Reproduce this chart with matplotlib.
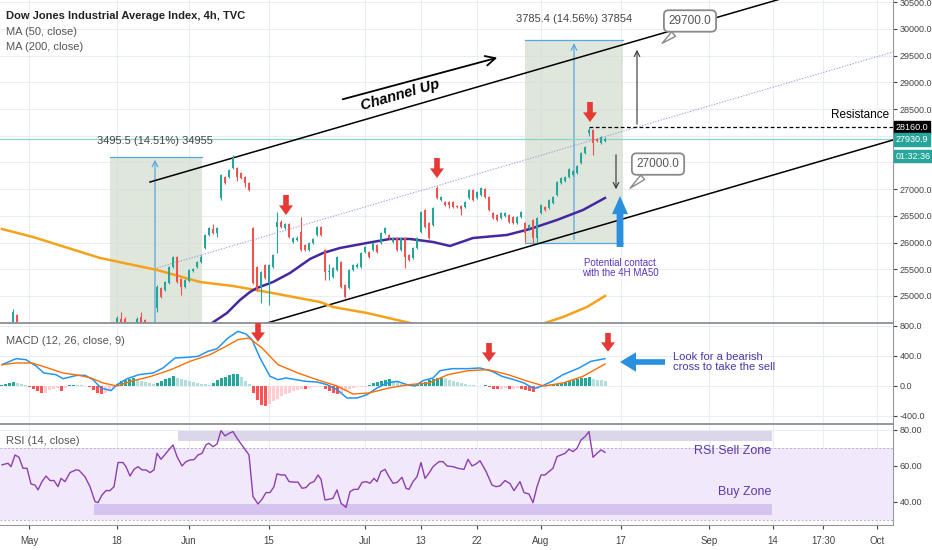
import numpy as np
import matplotlib
matplotlib.use('Agg')
import matplotlib.pyplot as plt
from matplotlib.patches import Rectangle, FancyArrow
from matplotlib.transforms import blended_transform_factory

plt.rcParams['font.family'] = ['Liberation Sans', 'DejaVu Sans']

# ---- candles (bar index 0 = first fully visible 4h bar, late May) ----
c_open = [24770, 25150, 25110, 25240, 25540, 25730, 25320, 25170, 25280, 25470,
          25540, 25640, 25900, 26140, 26250, 26180, 26830, 27230, 27230, 27400,
          27400, 27300, 27230, 27120, 26270, 25540, 25170, 25580, 25260, 25540,
          26290, 26380, 26270, 26350, 26010, 26040, 26200, 25950, 25860, 25990,
          26140, 26290, 25860, 25440, 25350, 25490, 25640, 25200, 25150, 25490,
          25540, 25540, 25820, 25820, 25860, 25960, 25990, 26180, 26140, 26010,
          26080, 25860, 26080, 25770, 25710, 25900, 26200, 26610, 26370, 26330,
          27020, 26800, 26760, 26760, 26760, 26680, 26680, 26670, 26830, 26980,
          26830, 26890, 27000, 26850, 26550, 26520, 26460, 26500, 26520, 26480,
          26370, 26480, 26370, 26270, 26420, 26080, 26550, 26670, 26650, 26740,
          26890, 27110, 27150, 27230, 27260, 27300, 27490, 27680, 28050, 28110,
          27940, 27865, 27900]
c_high = [25200, 25170, 25280, 25560, 25750, 25750, 25340, 25320, 25510, 25530,
          25660, 25760, 26160, 26300, 26340, 26290, 27290, 27250, 27380, 27640,
          27420, 27320, 27250, 27130, 26290, 25560, 25470, 25600, 25600, 25790,
          26570, 26420, 26360, 26370, 26100, 26120, 26470, 25980, 26010, 26090,
          26310, 26310, 25880, 25600, 25540, 25750, 25660, 25220, 25500, 25600,
          25610, 25820, 25940, 25840, 26010, 25980, 26200, 26290, 26160, 26100,
          26100, 26100, 26100, 25790, 25920, 26100, 26590, 26630, 26390, 26670,
          27060, 26870, 26780, 26780, 26780, 26700, 26700, 26780, 27000, 27000,
          26970, 27040, 27020, 26870, 26570, 26540, 26570, 26580, 26540, 26500,
          26500, 26600, 26390, 26350, 26440, 26480, 26720, 26690, 26820, 26870,
          27150, 27230, 27250, 27400, 27360, 27450, 27700, 27810, 28160, 28130,
          27960, 28000, 27970]
c_low = [24700, 24960, 25090, 25220, 25520, 25240, 25020, 25150, 25260, 25450,
         25520, 25620, 25880, 26120, 26160, 26100, 26800, 27100, 27210, 27380,
         27150, 27190, 27040, 26960, 25220, 25090, 24870, 25320, 24830, 25520,
         25800, 26270, 26250, 26080, 25990, 26020, 25840, 25840, 25840, 25970,
         26120, 26120, 25300, 25300, 25330, 25470, 25150, 24960, 25130, 25470,
         25520, 25520, 25800, 25710, 25840, 25810, 25970, 26160, 26070, 25990,
         25840, 25840, 25520, 25650, 25690, 25880, 26180, 26270, 26060, 26310,
         26810, 26780, 26680, 26650, 26650, 26640, 26520, 26650, 26810, 26780,
         26810, 26870, 26830, 26590, 26440, 26400, 26440, 26480, 26370, 26350,
         26350, 26460, 26010, 26250, 25990, 26000, 26530, 26590, 26630, 26720,
         26870, 27090, 27130, 27210, 27240, 27280, 27470, 27660, 28000, 27640,
         27880, 27850, 27880]
c_close = [25170, 24980, 25260, 25540, 25730, 25260, 25170, 25300, 25490, 25500,
           25640, 25730, 26140, 26270, 26180, 26270, 27270, 27120, 27360, 27580,
           27230, 27210, 27120, 26980, 25240, 25110, 25450, 25340, 25580, 25770,
           26380, 26290, 26340, 26100, 26080, 26080, 25860, 25860, 25990, 26070,
           26290, 26140, 25450, 25470, 25520, 25730, 25170, 24980, 25480, 25580,
           25580, 25800, 25920, 25730, 25990, 25830, 26180, 26270, 26090, 26080,
           25860, 26080, 25730, 25670, 25900, 26080, 26570, 26290, 26080, 26650,
           26830, 26850, 26700, 26700, 26670, 26660, 26620, 26760, 26980, 26800,
           26950, 27020, 26850, 26610, 26460, 26420, 26550, 26550, 26390, 26370,
           26480, 26570, 26180, 26330, 26080, 26460, 26700, 26610, 26800, 26850,
           27130, 27210, 27230, 27380, 27340, 27430, 27680, 27790, 28110, 27860,
           27900, 27977, 27931]

# early May bars, only their tops reach into view
early_bar = [-36, -35, -10, -9, -8, -5, -4, -3]
early_open = [24300, 24640, 24400, 24560, 24570, 24450, 24600, 24540]
early_high = [24760, 24660, 24620, 24700, 24600, 24600, 24700, 24560]
early_low = [24250, 24350, 24380, 24450, 24450, 24430, 24440, 24440]
early_close = [24700, 24400, 24590, 24500, 24480, 24570, 24490, 24480]

# moving averages
ma50_bar = [9, 13.75, 17.5, 20.75, 23.25, 25, 29, 33.25, 38.25, 41.5, 45.75, 52.5,
            58.25, 63.25, 69, 73.25, 79, 87.5, 93.25, 100, 106.5, 112]
ma50_val = [24200, 24493, 24681, 24924, 25074, 25149, 25261, 25430, 25692, 25804,
            25898, 25992, 26067, 26067, 26010, 25936, 26085, 26142, 26254, 26423,
            26610, 26835]
ma200_bar = [-38.75, -31, -14.25, 0, 10.75, 19, 27.5, 40.75, 44, 52.5, 63.25, 80,
             97, 101.5, 107.5, 112]
ma200_val = [26254, 26104, 25711, 25486, 25261, 25186, 25074, 24886, 24793, 24680,
             24494, np.nan, 24494, 24606, 24793, 24999]

# MACD (12, 26, 9)
macd_bar = [-38.75, -35.25, -32.75, -30.25, -28.25, -25.25, -23.5, -20, -18, -16,
            -14, -11.5, -10, -7.5, -4.5, -1, 1.5, 4.5, 7.5, 10.25,
            12.75, 15, 17.75, 20.25, 22.25, 23.75, 25.75, 28.25, 30.25, 32.25,
            34.75, 37.25, 40, 42.5, 45, 47.5, 50, 52.5, 55, 57.5,
            60, 62.5, 64.5, 66.5, 69, 70.75, 73.75, 77.75, 80.75, 83.75,
            86.25, 89.25, 91.75, 94.25, 96.25, 98.75, 101.5, 105.5, 108.5, 112]
macd_val = [284, 364, 351, 266, 173, 151, 97, 142, 142, 84,
            -27, -62, 18, 97, 151, 173, 240, 373, 382, 396,
            462, 497, 640, 729, 693, 617, 373, 129, 84, 107,
            84, 62, 53, 18, -49, -160, -160, -116, -27, 40,
            62, 18, 0, 71, 107, 204, 231, 231, 240, 196,
            129, 84, 40, -36, 0, 62, 151, 240, 329, 364]
signal_bar = [-38.75, -35.25, -31.25, -27.25, -23.5, -19.5, -16.5, -13.5, -10, -6.5,
              -1.5, 3.5, 8.25, 13.25, 17.25, 20.25, 23, 26.25, 30.25, 35.25,
              40, 45, 49, 53, 58, 63, 68, 72.75, 77.75, 82.75,
              87.75, 92.75, 96.75, 101.5, 106.5, 112]
signal_val = [284, 307, 307, 240, 173, 142, 107, 40, 0, 62,
              129, 218, 329, 418, 529, 618, 640, 507, 284, 173,
              84, 0, -107, -93, -27, 18, 40, 151, 204, 218,
              151, 62, 0, 40, 129, 293]
hist_start = -39
hist_val = ([15, 25, 40, 50, 45, 30, 15]
            + [-15, -40, -70, -95, -90, -50, -40, -30, -70, -30]
            + [8, 12, 10, 8, 5]
            + [-20, -50, -90, -110, -90, -60, -30]
            + [30, 60, 80, 95, 100, 90]
            + [65, 50, 40, 30, 45]
            + [70, 90, 110, 130]
            + [110, 95, 80, 65, 50, 40, 30]
            + [20, 15, 40, 80]
            + [100, 120, 140, 160, 165]
            + [120, 70, 20]
            + [-100, -190, -250, -266]
            + [-240, -200, -170, -140, -110, -90, -70, -50, -40]
            + [-44, -30, -20, -15, -10]
            + [-40, -70, -100, -110, -90, -70, -40]
            + [-30, -20, -15, -10]
            + [15, 35, 55, 70, 85, 89, 70, 50, 30, 15]
            + [10, 5, 8]
            + [30, 55, 75, 90, 105, 111, 100]
            + [85, 65, 50, 35, 25, 15]
            + [10, 5, -5, 8]
            + [-20, -35, -44, -40, -30, -44, -40, -25]
            + [-40, -55, -70, -75]
            + [-40, -20, -8]
            + [15, 25, 30, 40]
            + [55, 70, 85, 95, 105, 112, 120]
            + [95, 85, 75, 70])

# RSI (14)
rsi_bar = [-38.75, -37.25, -36.5, -35.5, -34.5, -33.5, -32.5, -31.5, -30.5, -29.75,
           -28.75, -27.75, -26.75, -25.75, -24.75, -24, -23, -21.75, -20.25, -19.5,
           -18, -16.75, -15.5, -14.75, -13.75, -12.75, -11.75, -10.75, -9.75, -8.5,
           -7.75, -6.75, -5.75, -4.75, -3.75, -2.75, -1.75, -0.75, 0, 1,
           2.25, 4, 5, 6.25, 7.25, 8.25, 9.25, 10.25, 11.25, 12.25,
           13, 14, 15, 16, 17, 18, 19, 20, 21.5, 23,
           24, 25.25, 26.25, 27.25, 28.25, 29.25, 30, 31, 32, 33,
           34.25, 35.25, 36.25, 37.25, 38.25, 39.25, 40.25, 41, 42, 43,
           44, 45, 46, 47.25, 48.25, 49.25, 50.25, 51.25, 52.25, 53.25,
           54.25, 55, 56, 57, 58, 59, 60, 61.25, 62.25, 63,
           64, 65, 66, 67, 68, 69, 70.5, 71.5, 72.5, 74,
           75.25, 76.75, 77.75, 78.75, 79.75, 80.75, 82.25, 83.75, 84.75, 85.75,
           87, 88.25, 89.25, 90.75, 91.75, 93, 94, 95, 96, 97,
           98, 99, 100, 101, 102, 103, 104, 105, 106, 107,
           108, 109, 110, 111, 112]
rsi_val = [60.6, 61.5, 59.6, 66.1, 64.8, 58.7, 58.7, 50, 49.4, 46.7,
           51.3, 54.4, 51.9, 51.9, 48.5, 53.1, 51.3, 56.3, 57.8, 57.6,
           54, 48.5, 40.2, 39.6, 43.9, 46.3, 46.3, 48.5, 61.9, 61.9,
           59.6, 54.4, 58.1, 59.6, 57.8, 57.8, 56.3, 57.8, 67, 63.7,
           67, 71.7, 65.2, 60, 62.4, 63.3, 63.5, 66.1, 67, 71.7,
           72.6, 70.7, 72.2, 79.6, 76.7, 78.1, 79.1, 75.4, 70.7, 66.1,
           43, 38.9, 41.5, 45.2, 45.2, 48.5, 55.6, 55, 55, 51.3,
           51, 51, 47.6, 48, 50.4, 51.3, 55, 52.6, 41.1, 41.5,
           42, 46.7, 39.3, 37, 45.7, 47, 47, 50.8, 51.3, 50.4,
           53.1, 51.3, 56.9, 58.1, 54, 50.4, 50.8, 53.7, 47.6, 47,
           51.3, 54, 61.9, 53.1, 56, 59.6, 62.4, 62.4, 60, 59.6,
           58.7, 58.1, 63.7, 60, 61.1, 62.9, 57, 49.4, 48.5, 48.9,
           51.9, 50.2, 46.3, 51.3, 45.2, 44.4, 39.6, 48.5, 55, 55,
           56.9, 58.7, 65.2, 66.1, 67, 69.3, 68, 69.8, 74.4, 76.3,
           79.1, 64.8, 67, 68.9, 67.6]

# time axis labels (bar positions of the dates)
tick_bar = [-32, -10, 8, 28, 52, 66, 80, 96, 116, 138, 154, 166.5, 180]
tick_lbl = ['May', '18', 'Jun', '15', 'Jul', '13', '22', 'Aug', '17', 'Sep', '14', '17:30', 'Oct']

last_price = 27930.9
resistance = 28160.0
meas1 = (-11.75, 11.25, 27603, 3495.5)   # x0, x1, top, move
meas2 = (92, 116.5, 26000, 3785.4)       # x0, x1, bottom, move

UP = '#26a69a'
DN = '#ef5350'
GRID = '#eaedf2'
TICK_FS = 6.5

fig = plt.figure(figsize=(9.32, 5.5), dpi=100)
W, H = 932.0, 550.0


def box(x0, y0, x1, y1):
    return [x0 / W, 1 - y1 / H, (x1 - x0) / W, (y1 - y0) / H]


ax = fig.add_axes(box(0, 0, 893, 323))
axm = fig.add_axes(box(0, 323, 893, 424), sharex=ax)
axr = fig.add_axes(box(0, 424, 893, 525), sharex=ax)

for a in (ax, axm, axr):
    a.set_axisbelow(True)
    a.yaxis.tick_right()
    a.grid(True, color=GRID, lw=0.8)
    a.spines['left'].set_visible(False)
    a.spines['right'].set_color('#9598a1')
    a.spines['top'].set_color('#8c8f98')
    a.spines['top'].set_linewidth(1.3)
    a.spines['bottom'].set_visible(False)
    a.tick_params(axis='y', length=3, labelsize=TICK_FS, colors='#444', pad=2)
ax.spines['top'].set_visible(False)
axr.spines['bottom'].set_visible(True)
axr.spines['bottom'].set_color('#9598a1')

ax.set_xlim(-39.25, 184)
ax.set_xticks(tick_bar)
axr.set_xticklabels(tick_lbl)
ax.tick_params(axis='x', length=0, labelbottom=False)
axm.tick_params(axis='x', length=0, labelbottom=False)
axr.tick_params(axis='x', length=3, labelsize=7, colors='#444', pad=5)

# ---------------- main price panel ----------------
ax.set_ylim(24493, 30543)
pticks = list(range(25000, 31000, 500))
ax.set_yticks(pticks)
ax.set_yticklabels(['' if p in (27500, 28000) else '%.1f' % p for p in pticks])

# measurement boxes
x0, x1, top, mv = meas1
ax.add_patch(Rectangle((x0, top - mv), x1 - x0, mv, fc='#d5ded1', alpha=0.75, lw=0, zorder=1))
ax.plot([x0, x1], [top, top], color='#5aa7dc', lw=0.9, zorder=2)
ax.annotate('', xy=(-0.5, top), xytext=(-0.5, top - mv),
            arrowprops=dict(arrowstyle='->', color='#5aa7dc', lw=0.9), zorder=2)
ax.text(-0.5, top + 200, '3495.5 (14.51%) 34955', ha='center', va='bottom', fontsize=8, color='#444')

x0, x1, bot, mv = meas2
ax.add_patch(Rectangle((x0, bot), x1 - x0, mv, fc='#d5ded1', alpha=0.75, lw=0, zorder=1))
ax.plot([x0, x1], [bot + mv, bot + mv], color='#5aa7dc', lw=0.9, zorder=2)
ax.plot([x0, x1], [bot, bot], color='#5aa7dc', lw=0.9, zorder=2)
ax.annotate('', xy=(104.25, bot + mv), xytext=(104.25, bot),
            arrowprops=dict(arrowstyle='->', color='#5aa7dc', lw=0.9), zorder=2)
ax.text(104.25, bot + mv + 300, '3785.4 (14.56%) 37854', ha='center', va='bottom', fontsize=8, color='#444')

# current price line
ax.axhline(last_price, color='#8fd3ca', lw=0.9, zorder=2)

# channel
ax.plot([-1.75, 184], [27134, 27134 + 21.75 * 185.75], color='black', lw=1.1, zorder=3)
ax.plot([20, 184], [24493 - 21.9 * 7.5, 27921], color='black', lw=1.1, zorder=3)
ax.plot([0, 184], [25524, 29569], color='#9a90d6', lw=0.8, ls=(0, (1, 1.5)), zorder=2)

# moving averages
ax.plot(ma200_bar, ma200_val, color='#f5a21b', lw=1.8, zorder=3)
ax.plot(ma50_bar, ma50_val, color='#4527a0', lw=1.8, zorder=3)

# candles
bars = np.arange(len(c_open))


def draw_candles(xs, o, h, l, c):
    o, h, l, c = map(np.asarray, (o, h, l, c))
    col = np.where(c >= o, UP, DN)
    ax.vlines(xs, l, h, colors=col, lw=0.8, zorder=4)
    ht = np.maximum(np.abs(c - o), 12)
    ax.bar(xs, ht, bottom=np.minimum(o, c), width=0.72, color=col, lw=0, zorder=5)


draw_candles(bars, c_open, c_high, c_low, c_close)
draw_candles(np.asarray(early_bar), early_open, early_high, early_low, early_close)

# resistance
ax.plot([108, 184], [resistance, resistance], color='black', lw=0.9, ls=(0, (3, 2)), zorder=3)
ax.text(183, resistance + 120, 'Resistance', ha='right', va='bottom', fontsize=8.5, color='black')

# red / blue block arrows
for xb, yt in [(32.25, 26891), (70, 27584), (108.25, 28633)]:
    ax.add_patch(FancyArrow(xb, yt, 0, -375, width=1.4, head_width=3.5, head_length=180,
                            length_includes_head=True, color='#e53935', lw=0, zorder=6))
ax.add_patch(FancyArrow(115.75, 25917, 0, 955, width=1.7, head_width=4.0, head_length=340,
                        length_includes_head=True, color='#2b8fe0', lw=0, zorder=6))

# thin target arrows
ax.annotate('', xy=(120, 29663), xytext=(120, 28165),
            arrowprops=dict(arrowstyle='->', color='#333', lw=0.8))
ax.annotate('', xy=(114.75, 26947), xytext=(114.75, 27696),
            arrowprops=dict(arrowstyle='->', color='#333', lw=0.8))

# callouts
for txt, tip, pos in [('29700.0', (125.75, 29700), (133.25, 30150)),
                      ('27000.0', (117.75, 26984), (125.25, 27470))]:
    ax.annotate(txt, xy=tip, xytext=pos, ha='center', va='center', fontsize=8.5, color='#555',
                bbox=dict(boxstyle='round,pad=0.4', fc='white', ec='#8a8a8a', lw=1.3),
                arrowprops=dict(arrowstyle='wedge,tail_width=0.5', fc='white', ec='#8a8a8a', lw=1.0),
                zorder=7)

# channel up label
ax.annotate('', xy=(85.75, 29476), xytext=(45.75, 28670),
            arrowprops=dict(arrowstyle='->,head_length=0.7,head_width=0.35', color='black', lw=1.3))
ax.text(60.75, 28760, 'Channel Up', rotation=16, ha='center', va='center', fontsize=10.5,
        fontweight='bold', fontstyle='italic', color='black', rotation_mode='anchor')

ax.text(115.75, 25524, 'Potential contact\nwith the 4H MA50', ha='center', va='center',
        fontsize=7, color='#5b36b8', linespacing=1.1)

# legend
ax.text(6 / 893, 1 - 16 / 323, 'Dow Jones Industrial Average Index, 4h, TVC', transform=ax.transAxes,
        fontsize=8, color='#222', va='center', fontweight='bold')
ax.text(6 / 893, 1 - 32 / 323, 'MA (50, close)', transform=ax.transAxes, fontsize=8, color='#555', va='center')
ax.text(6 / 893, 1 - 47 / 323, 'MA (200, close)', transform=ax.transAxes, fontsize=8, color='#555', va='center')

# price tags on the axis
bt = blended_transform_factory(ax.transAxes, ax.transData)
tag = dict(ha='left', va='center', fontsize=TICK_FS, color='white', zorder=10)
ax.text(1.003, resistance, '%.1f' % resistance, transform=bt, clip_on=False,
        bbox=dict(boxstyle='square,pad=0.2', fc='black', ec='black'), **tag)
ax.text(1.003, last_price, '%.1f' % last_price, transform=bt, clip_on=False,
        bbox=dict(boxstyle='square,pad=0.2', fc=UP, ec=UP), **tag)
ax.annotate('01:32:36', xy=(1.003, last_price), xycoords=bt, xytext=(0, -12), textcoords='offset points',
            bbox=dict(boxstyle='square,pad=0.2', fc=UP, ec=UP), annotation_clip=False, **tag)

# ---------------- MACD panel ----------------
axm.set_ylim(-507, 840)
axm.set_yticks([800, 400, 0, -400])
axm.set_yticklabels(['800.0', '400.0', '0.0', '-400.0'])
hcol = []
prev = 0
for hv in hist_val:
    if hv >= 0:
        hcol.append(UP if hv >= prev else '#b2dfdb')
    else:
        hcol.append('#ff5252' if hv <= prev else '#ffcdd2')
    prev = hv
axm.bar(np.arange(hist_start, hist_start + len(hist_val)), hist_val, width=0.75, color=hcol, lw=0, zorder=2)
axm.plot(macd_bar, macd_val, color='#2196f3', lw=1.1, zorder=3)
axm.plot(signal_bar, signal_val, color='#ff6d00', lw=1.0, zorder=3)
axm.text(6 / 893, 0.82, 'MACD (12, 26, close, 9)', transform=axm.transAxes, fontsize=8, color='#555', va='center')
for xb, yt in [(25.25, 840), (83, 573), (112.75, 707)]:
    axm.add_patch(FancyArrow(xb, yt, 0, -250, width=1.4, head_width=3.5, head_length=125,
                             length_includes_head=True, color='#e53935', lw=0, zorder=6))
axm.add_patch(FancyArrow(127, 320, -11.25, 0, width=75, head_width=260, head_length=4,
                         length_includes_head=True, color='#2b8fe0', lw=0, zorder=6))
axm.text(129, 320, 'Look for a bearish\ncross to take the sell', ha='left', va='center', fontsize=8,
         color='#4a37a8', linespacing=1.1)

# ---------------- RSI panel ----------------
axr.set_ylim(27.2, 83.3)
axr.set_yticks([80, 60, 40])
axr.set_yticklabels(['80.00', '60.00', '40.00'])
axr.axhspan(30, 70, color='#f2e8fc', lw=0, zorder=0)
axr.axhline(70, color='#b8b0c8', lw=0.7, ls=(0, (2, 2)))
axr.axhline(30, color='#b8b0c8', lw=0.7, ls=(0, (2, 2)))
axr.add_patch(Rectangle((5.25, 73.9), 148.5, 5.5, fc='#dcd6ea', lw=0, zorder=1))
axr.add_patch(Rectangle((-15.75, 32.8), 169.5, 6.1, fc='#d6c3ef', lw=0, zorder=1))
axr.plot(rsi_bar, rsi_val, color='#8e3fae', lw=1.0, zorder=3)
axr.text(153.5, 68.3, 'RSI Sell Zone', ha='right', va='center', fontsize=9, color='#5b3aa8')
axr.text(153.5, 45.6, 'Buy Zone', ha='right', va='center', fontsize=9, color='#5b3aa8')
axr.text(6 / 893, 0.83, 'RSI (14, close)', transform=axr.transAxes, fontsize=8, color='#555', va='center')

fig.savefig('out.png', dpi=100)
